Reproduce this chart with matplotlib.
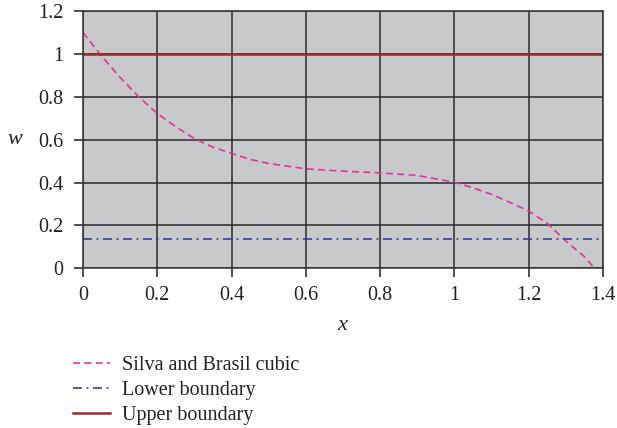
import matplotlib
matplotlib.use("Agg")
import matplotlib.pyplot as plt
import numpy as np

# Data
x_cubic = [0.0, 0.05, 0.1, 0.15, 0.2, 0.25, 0.3, 0.35, 0.4, 0.45, 0.5, 0.6, 0.7, 0.8,
           0.9, 0.95, 1.0, 1.05, 1.1, 1.15, 1.2, 1.25, 1.3, 1.35, 1.377]
w_cubic = [1.10, 0.99, 0.89, 0.80, 0.722, 0.66, 0.605, 0.565, 0.536, 0.508, 0.489, 0.464,
           0.453, 0.445, 0.433, 0.417, 0.402, 0.375, 0.345, 0.307, 0.267, 0.21, 0.127,
           0.054, 0.0]
x_bounds = [0.0, 1.4]
w_lower = [0.135, 0.135]
w_upper = [1.0, 1.0]
labels = ["Silva and Brasil cubic", "Lower boundary", "Upper boundary"]
x_ticks = [0, 0.2, 0.4, 0.6, 0.8, 1, 1.2, 1.4]
x_ticklabels = ["0", "0.2", "0.4", "0.6", "0.8", "1", "1.2", "1.4"]
y_ticks = [0, 0.2, 0.4, 0.6, 0.8, 1, 1.2]
y_ticklabels = ["0", "0.2", "0.4", "0.6", "0.8", "1", "1.2"]

plt.rcParams['font.family'] = ['Liberation Serif', 'DejaVu Serif']

fig = plt.figure(figsize=(6.17, 4.28), dpi=100)
ax = fig.add_axes([0.1345, 0.3731, 0.8428, 0.6012])
ax.set_facecolor('#C8C9CB')

ax.set_xlim(0, 1.4)
ax.set_ylim(0, 1.2)
ax.set_xticks(x_ticks)
ax.set_xticklabels(x_ticklabels)
ax.set_yticks(y_ticks)
ax.set_yticklabels(y_ticklabels)
ax.grid(True, color='#2a2a2a', linewidth=1.1)
ax.set_axisbelow(True)
for s in ax.spines.values():
    s.set_color('#333333')
    s.set_linewidth(1.1)
ax.tick_params(axis='both', direction='out', length=6.5, width=1.1, color='#222222',
               labelsize=14.5, labelcolor='#222222')
ax.tick_params(axis='y', pad=7.5)
ax.tick_params(axis='x', pad=6.5)

l1, = ax.plot(x_cubic, w_cubic, color='#E8309A', linewidth=1.2,
              linestyle=(0, (4.2, 2.6)), label=labels[0])
l2, = ax.plot(x_bounds, w_lower, color='#3B3E9C', linewidth=1.2,
              linestyle=(0, (5.4, 2.7, 1.2, 2.7)), label=labels[1])
l3, = ax.plot(x_bounds, w_upper, color='#9E2A2A', linewidth=1.8, label=labels[2])

fig.text(15 / 617, 1 - 139 / 428, 'w', style='italic', fontsize=16, color='#222222',
         ha='center', va='center')
fig.text(342 / 617, 1 - 326 / 428, 'x', style='italic', fontsize=16, color='#222222',
         ha='center', va='center')

fig.legend(handles=[l1, l2, l3], labels=labels, loc='upper left',
           bbox_to_anchor=(73 / 617, 1 - 356 / 428), frameon=False, fontsize=14.5,
           handlelength=1.85, handletextpad=0.6, labelspacing=0.28, borderpad=0.0,
           borderaxespad=0.0, labelcolor='#222222')

fig.savefig('out.png', dpi=100)
